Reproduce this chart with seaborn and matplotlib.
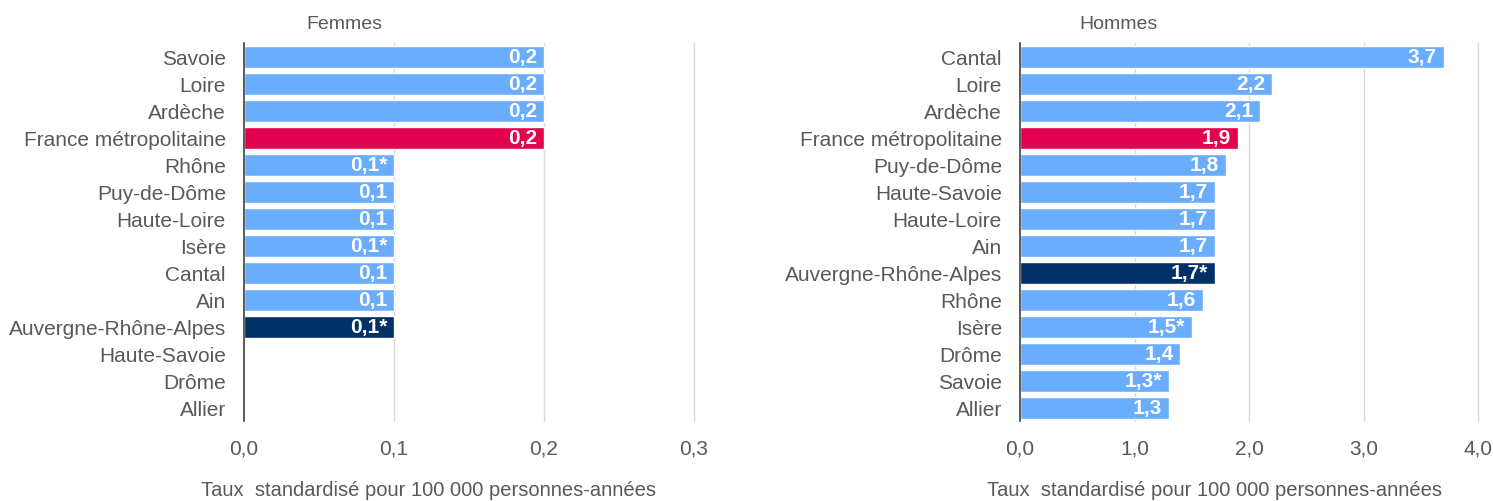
import numpy as np
import pandas as pd
import seaborn as sns
import matplotlib.pyplot as plt
from matplotlib.ticker import FuncFormatter

# Data
femmes_regions = ["Savoie", "Loire", "Ardèche", "France métropolitaine", "Rhône",
                  "Puy-de-Dôme", "Haute-Loire", "Isère", "Cantal", "Ain",
                  "Auvergne-Rhône-Alpes", "Haute-Savoie", "Drôme", "Allier"]
femmes_values = [0.2, 0.2, 0.2, 0.2, 0.1, 0.1, 0.1, 0.1, 0.1, 0.1, 0.1,
                 np.nan, np.nan, np.nan]
femmes_labels = ["0,2", "0,2", "0,2", "0,2", "0,1*", "0,1", "0,1", "0,1*",
                 "0,1", "0,1", "0,1*", "", "", ""]

hommes_regions = ["Cantal", "Loire", "Ardèche", "France métropolitaine",
                  "Puy-de-Dôme", "Haute-Savoie", "Haute-Loire", "Ain",
                  "Auvergne-Rhône-Alpes", "Rhône", "Isère", "Drôme", "Savoie",
                  "Allier"]
hommes_values = [3.7, 2.2, 2.1, 1.9, 1.8, 1.7, 1.7, 1.7, 1.7, 1.6, 1.5, 1.4,
                 1.3, 1.3]
hommes_labels = ["3,7", "2,2", "2,1", "1,9", "1,8", "1,7", "1,7", "1,7",
                 "1,7*", "1,6", "1,5*", "1,4", "1,3*", "1,3"]

femmes_ticks = [0.0, 0.1, 0.2, 0.3]
hommes_ticks = [0.0, 1.0, 2.0, 3.0, 4.0]

BLUE = "#6AADFF"
RED = "#E2004F"
NAVY = "#003068"
GREY = "#595959"
special = {"France métropolitaine": RED, "Auvergne-Rhône-Alpes": NAVY}

sns.set_style("white")
plt.rcParams["font.family"] = ["Liberation Sans", "DejaVu Sans"]

fig = plt.figure(figsize=(14.93, 5.02), dpi=100)
ax_f = fig.add_axes([0.1634, 0.1584, 0.3014, 0.753])
ax_h = fig.add_axes([0.6832, 0.1584, 0.3068, 0.753])


def draw(ax, regions, values, labels, ticks, title, title_x, label_x):
    df = pd.DataFrame({"region": regions, "value": values})
    palette = {r: special.get(r, BLUE) for r in regions}
    sns.barplot(data=df, x="value", y="region", hue="region", palette=palette,
                orient="h", width=0.8, saturation=1, legend=False, ax=ax,
                zorder=2)
    ax.set_xlim(ticks[0], ticks[-1])
    ax.set_ylim(len(regions) - 0.5, -0.5)
    ax.set_xticks(ticks)
    ax.xaxis.set_major_formatter(FuncFormatter(lambda v, p: f"{v:.1f}".replace(".", ",")))
    ax.set_axisbelow(True)
    for t in ticks[1:]:
        ax.axvline(t, color="#D9D9D9", linewidth=1, zorder=0, clip_on=False)
    for s in ["top", "right", "bottom"]:
        ax.spines[s].set_visible(False)
    ax.spines["left"].set_color("#404040")
    ax.spines["left"].set_linewidth(1.2)
    ax.tick_params(axis="both", length=0, labelsize=15, labelcolor=GREY)
    ax.tick_params(axis="x", pad=12)
    ax.tick_params(axis="y", pad=13)
    ax.set_ylabel("")
    ax.set_xlabel("Taux  standardisé pour 100 000 personnes-années",
                  fontsize=14.5, color=GREY)
    ax.xaxis.set_label_coords(label_x, -0.179)
    ax.xaxis.label.set_va("center")
    ax.set_title(title, fontsize=14, color=GREY, x=title_x, y=1.02)
    pad = (ticks[-1] - ticks[0]) * 0.015
    for i, (v, lab) in enumerate(zip(values, labels)):
        if lab and not np.isnan(v):
            ax.text(v - pad, i, lab, ha="right", va="center", color="white",
                    fontweight="bold", fontsize=15, zorder=3)


draw(ax_f, femmes_regions, femmes_values, femmes_labels, femmes_ticks,
     "Femmes", 0.224, 0.409)
draw(ax_h, hommes_regions, hommes_values, hommes_labels, hommes_ticks,
     "Hommes", 0.214, 0.424)

fig.savefig("out.png", dpi=100)
